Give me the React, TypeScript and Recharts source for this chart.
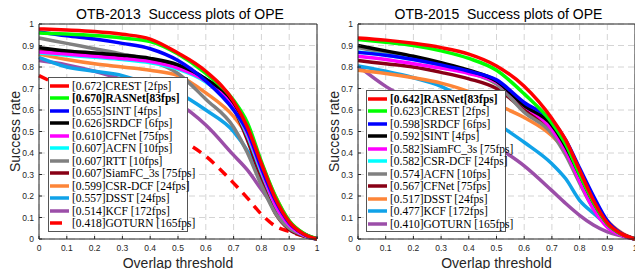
import { LineChart, Line, XAxis, YAxis, CartesianGrid, Legend } from "recharts";

const thresholds = [0, 0.1, 0.2, 0.3, 0.4, 0.5, 0.6, 0.7, 0.75, 0.8, 0.85, 0.9, 0.95, 1];
const axisTicks = [0, 0.1, 0.2, 0.3, 0.4, 0.5, 0.6, 0.7, 0.8, 0.9, 1];

// OTB-2013 success curves
const crest13 = [0.977, 0.972, 0.965, 0.952, 0.93, 0.865, 0.78, 0.64, 0.52, 0.35, 0.19, 0.08, 0.025, 0];
const rasnet13 = [0.958, 0.953, 0.946, 0.935, 0.918, 0.86, 0.77, 0.645, 0.54, 0.36, 0.2, 0.085, 0.028, 0];
const sint13 = [0.963, 0.945, 0.93, 0.91, 0.885, 0.83, 0.735, 0.6, 0.5, 0.33, 0.18, 0.075, 0.025, 0];
const srdcf13 = [0.89, 0.875, 0.865, 0.855, 0.84, 0.81, 0.745, 0.635, 0.52, 0.35, 0.19, 0.08, 0.025, 0];
const cfnet13 = [0.87, 0.86, 0.85, 0.84, 0.825, 0.795, 0.735, 0.615, 0.49, 0.32, 0.16, 0.065, 0.02, 0];
const acfn13 = [0.865, 0.855, 0.845, 0.835, 0.82, 0.79, 0.73, 0.61, 0.48, 0.31, 0.16, 0.065, 0.02, 0];
const rtt13 = [0.935, 0.91, 0.885, 0.86, 0.83, 0.77, 0.65, 0.52, 0.4, 0.25, 0.12, 0.05, 0.018, 0];
const siamfc13 = [0.875, 0.865, 0.855, 0.845, 0.825, 0.8, 0.74, 0.61, 0.46, 0.28, 0.12, 0.045, 0.015, 0];
const csrdcf13 = [0.86, 0.835, 0.815, 0.8, 0.785, 0.76, 0.68, 0.57, 0.48, 0.35, 0.2, 0.085, 0.028, 0];
const dsst13 = [0.845, 0.8, 0.78, 0.76, 0.72, 0.68, 0.6, 0.5, 0.41, 0.29, 0.16, 0.065, 0.02, 0];
const kcf13 = [0.83, 0.81, 0.78, 0.74, 0.68, 0.63, 0.53, 0.39, 0.32, 0.23, 0.14, 0.065, 0.02, 0];
const goturn13 = [0.76, 0.7, 0.65, 0.6, 0.54, 0.47, 0.385, 0.26, 0.19, 0.115, 0.06, 0.035, 0.015, 0];

const otb2013Labels = [
  "[0.672]CREST [2fps]",
  "[0.670]RASNet[83fps]",
  "[0.655]SINT [4fps]",
  "[0.626]SRDCF [6fps]",
  "[0.610]CFNet [75fps]",
  "[0.607]ACFN [10fps]",
  "[0.607]RTT [10fps]",
  "[0.607]SiamFC_3s [75fps]",
  "[0.599]CSR-DCF [24fps]",
  "[0.557]DSST [24fps]",
  "[0.514]KCF [172fps]",
  "[0.418]GOTURN [165fps]",
];
const otb2013Curves = [crest13, rasnet13, sint13, srdcf13, cfnet13, acfn13, rtt13, siamfc13, csrdcf13, dsst13, kcf13, goturn13];

// OTB-2015 success curves
const rasnet15 = [0.935, 0.925, 0.91, 0.89, 0.86, 0.805, 0.71, 0.56, 0.46, 0.32, 0.18, 0.075, 0.025, 0];
const crest15 = [0.928, 0.915, 0.9, 0.875, 0.84, 0.785, 0.675, 0.54, 0.44, 0.3, 0.17, 0.07, 0.023, 0];
const srdcf15 = [0.868, 0.855, 0.835, 0.81, 0.78, 0.74, 0.635, 0.55, 0.46, 0.33, 0.2, 0.085, 0.027, 0];
const sint15 = [0.9, 0.875, 0.85, 0.82, 0.785, 0.735, 0.62, 0.53, 0.43, 0.3, 0.17, 0.072, 0.024, 0];
const siamfc15 = [0.85, 0.835, 0.815, 0.795, 0.77, 0.73, 0.62, 0.51, 0.41, 0.27, 0.14, 0.055, 0.018, 0];
const csrdcf15 = [0.87, 0.855, 0.835, 0.81, 0.78, 0.735, 0.625, 0.535, 0.44, 0.31, 0.17, 0.07, 0.022, 0];
const acfn15 = [0.89, 0.865, 0.84, 0.81, 0.775, 0.72, 0.59, 0.49, 0.39, 0.26, 0.14, 0.058, 0.02, 0];
const cfnet15 = [0.83, 0.815, 0.8, 0.775, 0.745, 0.7, 0.6, 0.5, 0.41, 0.28, 0.15, 0.062, 0.02, 0];
const dsst15 = [0.785, 0.77, 0.75, 0.725, 0.685, 0.625, 0.565, 0.48, 0.41, 0.3, 0.185, 0.085, 0.03, 0];
const kcf15 = [0.805, 0.78, 0.75, 0.71, 0.64, 0.54, 0.45, 0.35, 0.28, 0.18, 0.12, 0.065, 0.02, 0];
const goturn15 = [0.805, 0.71, 0.64, 0.58, 0.51, 0.43, 0.34, 0.225, 0.165, 0.11, 0.065, 0.033, 0.015, 0];

const otb2015Labels = [
  "[0.642]RASNet[83fps]",
  "[0.623]CREST [2fps]",
  "[0.598]SRDCF [6fps]",
  "[0.592]SINT [4fps]",
  "[0.582]SiamFC_3s [75fps]",
  "[0.582]CSR-DCF [24fps]",
  "[0.574]ACFN [10fps]",
  "[0.567]CFNet [75fps]",
  "[0.517]DSST [24fps]",
  "[0.477]KCF [172fps]",
  "[0.410]GOTURN [165fps]",
];
const otb2015Curves = [rasnet15, crest15, srdcf15, sint15, siamfc15, csrdcf15, acfn15, cfnet15, dsst15, kcf15, goturn15];

// colour by rank, as in the OTB toolkit
const rankColors = [
  "#ff0000", "#00ff00", "#0000ff", "#000000", "#ff00ff", "#00ffff",
  "#808080", "#880015", "#fd8538", "#10a2e8", "#9b4ea8", "#ff0000",
];

const sans = '"Liberation Sans", Arial, Helvetica, sans-serif';
const serif = '"Liberation Serif", "Times New Roman", serif';
const axisColor = "#262626";

function buildRows(curves: number[][]) {
  return thresholds.map((t, i) => {
    const row: Record<string, number> = { t };
    curves.forEach((c, k) => (row["s" + k] = c[i]));
    return row;
  });
}

const tickFmt = (v: number) => (v === 0 || v === 1 ? String(v) : v.toFixed(1));

function LegendBox({ labels, boldIndex, dashedIndex }: { labels: string[]; boldIndex: number; dashedIndex: number }) {
  return (
    <div
      style={{
        background: "#fff",
        border: "1px solid #555",
        boxSizing: "border-box",
        width: 140,
        padding: "1.5px 0 1px 0",
        fontFamily: serif,
        fontSize: 11.5,
        color: "#000",
      }}
    >
      {labels.map((label, k) => (
        <div key={label} style={{ height: 12.5, display: "flex", alignItems: "center", whiteSpace: "nowrap" }}>
          <svg width={23} height={12} style={{ flex: "none" }}>
            <line
              x1={1}
              x2={20}
              y1={6}
              y2={6}
              stroke={rankColors[k]}
              strokeWidth={3.5}
              strokeDasharray={k === dashedIndex ? "12 10" : undefined}
            />
          </svg>
          <span style={{ fontWeight: k === boldIndex ? "bold" : "normal" }}>{label}</span>
        </div>
      ))}
    </div>
  );
}

type PanelProps = {
  title: string;
  labels: string[];
  curves: number[][];
  boldIndex: number;
  dashedIndex: number;
  width: number;
  yAxisWidth: number;
  marginRight: number;
  legendLeft: number;
  legendTop: number;
};

function SuccessPanel(p: PanelProps) {
  const rows = buildRows(p.curves);
  const order = p.curves.map((_, k) => k).reverse();
  return (
    <LineChart width={p.width} height={269} data={rows} margin={{ top: 23, right: p.marginRight, bottom: 0, left: 0 }}>
      <CartesianGrid stroke="#d4d4d4" strokeDasharray="6 4" />
      <XAxis
        type="number"
        dataKey="t"
        domain={[0, 1]}
        ticks={axisTicks}
        interval={0}
        tickFormatter={tickFmt}
        height={30}
        tickSize={-3}
        tickMargin={9}
        axisLine={{ stroke: axisColor }}
        tickLine={{ stroke: axisColor }}
        tick={{ fontSize: 8.5, fill: axisColor, fontFamily: sans }}
        label={{
          content: ({ viewBox }: any) => (
            <text x={viewBox.x + viewBox.width / 2} y={viewBox.y + 29} textAnchor="middle" fontSize={14} fontFamily={sans} fill={axisColor}>
              Overlap threshold
            </text>
          ),
        }}
      />
      <XAxis
        xAxisId="top"
        orientation="top"
        type="number"
        dataKey="t"
        domain={[0, 1]}
        ticks={axisTicks}
        interval={0}
        height={1}
        tickSize={-3}
        tick={false}
        axisLine={{ stroke: axisColor }}
        tickLine={{ stroke: axisColor }}
        label={{
          content: ({ viewBox }: any) => (
            <text
              x={viewBox.x + viewBox.width / 2 + 2}
              y={viewBox.y - 4}
              textAnchor="middle"
              fontSize={14}
              fontFamily={sans}
              fill="#000"
              style={{ whiteSpace: "pre" }}
            >
              {p.title}
            </text>
          ),
        }}
      />
      <YAxis
        type="number"
        domain={[0, 1]}
        ticks={axisTicks}
        interval={0}
        tickFormatter={tickFmt}
        width={p.yAxisWidth}
        tickSize={-3}
        tickMargin={8}
        axisLine={{ stroke: axisColor }}
        tickLine={{ stroke: axisColor }}
        tick={{ fontSize: 8.5, fill: axisColor, fontFamily: sans }}
        label={{
          content: ({ viewBox }: any) => {
            const cx = viewBox.x + p.yAxisWidth - 24;
            const cy = viewBox.y + viewBox.height / 2;
            return (
              <text x={cx} y={cy} transform={`rotate(-90 ${cx} ${cy})`} textAnchor="middle" dominantBaseline="central" fontSize={14} fontFamily={sans} fill={axisColor}>
                Success rate
              </text>
            );
          },
        }}
      />
      <YAxis
        yAxisId="right"
        orientation="right"
        type="number"
        domain={[0, 1]}
        ticks={axisTicks}
        interval={0}
        width={1}
        tickSize={-3}
        tick={false}
        axisLine={{ stroke: axisColor }}
        tickLine={{ stroke: axisColor }}
      />
      <Legend
        layout="vertical"
        align="center"
        verticalAlign="middle"
        wrapperStyle={{ left: p.legendLeft, top: p.legendTop, width: 140, height: "auto" }}
        content={() => <LegendBox labels={p.labels} boldIndex={p.boldIndex} dashedIndex={p.dashedIndex} />}
      />
      {order.map((k) => (
        <Line
          key={k}
          type="monotone"
          dataKey={"s" + k}
          name={p.labels[k]}
          stroke={rankColors[k]}
          strokeWidth={3.5}
          strokeDasharray={k === p.dashedIndex ? "10 7" : undefined}
          dot={false}
          activeDot={false}
          isAnimationActive={false}
        />
      ))}
    </LineChart>
  );
}

export default function App() {
  return (
    <div style={{ position: "relative", width: 635, height: 269, background: "#fff", overflow: "hidden" }}>
      <style>{"body{margin:0}"}</style>
      <div style={{ position: "absolute", left: 0, top: 0 }}>
        <SuccessPanel
          title="OTB-2013  Success plots of OPE"
          labels={otb2013Labels}
          curves={otb2013Curves}
          boldIndex={1}
          dashedIndex={11}
          width={330}
          yAxisWidth={39}
          marginRight={12}
          legendLeft={48}
          legendTop={77}
        />
      </div>
      <div style={{ position: "absolute", left: 318, top: 0 }}>
        <SuccessPanel
          title="OTB-2015  Success plots of OPE"
          labels={otb2015Labels}
          curves={otb2015Curves}
          boldIndex={0}
          dashedIndex={-1}
          width={318}
          yAxisWidth={40}
          marginRight={0}
          legendLeft={48}
          legendTop={90}
        />
      </div>
    </div>
  );
}
